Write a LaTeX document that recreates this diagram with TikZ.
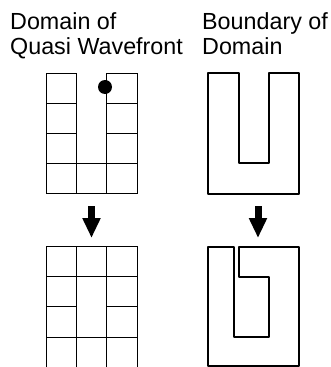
\documentclass[tikz,border=0pt]{standalone}
\usepackage{fontspec}
\setmainfont{Liberation Sans}
\usepackage{tikz}
\usetikzlibrary{arrows.meta,calc}
\tikzset{
  cell/.style={draw=black,line width=1pt},
  bound/.style={draw=black,line width=2.2pt,line join=round},
  flow/.style={draw=black,line width=7pt,-{Triangle[width=17pt,length=20pt]}},
  title/.style={anchor=base west,inner sep=0pt,font=\fontsize{23.3}{25}\selectfont}
}
\newcommand{\cs}{30.2}

\begin{document}
\begin{tikzpicture}[x=1pt,y=-1pt]
    \useasboundingbox (0,0) rectangle (331,367);

    % titles
    \node[title] (dq1) at (10,29) {Domain of};
    \node[title] (dq2) at (10,54) {Quasi Wavefront};
    \node[title] (bd1) at (202,29) {Boundary of};
    \node[title] (bd2) at (202,54) {Domain};

    % domain, before
    \foreach \r in {0,1,2,3} {
        \draw[cell] (46.5,73+\r*\cs) rectangle ++(\cs,\cs);
        \draw[cell] (46.5+2*\cs,73+\r*\cs) rectangle ++(\cs,\cs);
    }
    \draw[cell] (46.5+\cs,73+3*\cs) rectangle ++(\cs,\cs);
    \fill (105,87) circle (7);

    % domain, after
    \foreach \r in {0,1,2,3} {
        \draw[cell] (46.5,246.5+\r*\cs) rectangle ++(\cs,\cs);
        \draw[cell] (46.5+2*\cs,246.5+\r*\cs) rectangle ++(\cs,\cs);
    }
    \draw[cell] (46.5+\cs,246.5) rectangle ++(\cs,\cs);
    \draw[cell] (46.5+\cs,246.5+\cs) rectangle ++(\cs,2*\cs);
    \draw[cell] (46.5+\cs,246.5+3*\cs) rectangle ++(\cs,\cs);

    % boundary, before
    \draw[bound] (208,73) -- (239,73) -- (239,163) -- (269,163) -- (269,73)
        -- (299,73) -- (299,194) -- (208,194) -- cycle;

    % boundary, after
    \draw[bound] (208,247) -- (234,247) -- (234,337) -- (269,337) -- (269,277)
        -- (239,277) -- (239,247) -- (299,247) -- (299,366) -- (208,366) -- cycle;

    % arrows
    \coordinate (la1) at (91.5,206);
    \coordinate (la2) at (91.5,238);
    \coordinate (ra1) at (258,206);
    \coordinate (ra2) at (258,238);
    \draw[flow] (la1) -- (la2);
    \draw[flow] (ra1) -- (ra2);
\end{tikzpicture}
\end{document}
